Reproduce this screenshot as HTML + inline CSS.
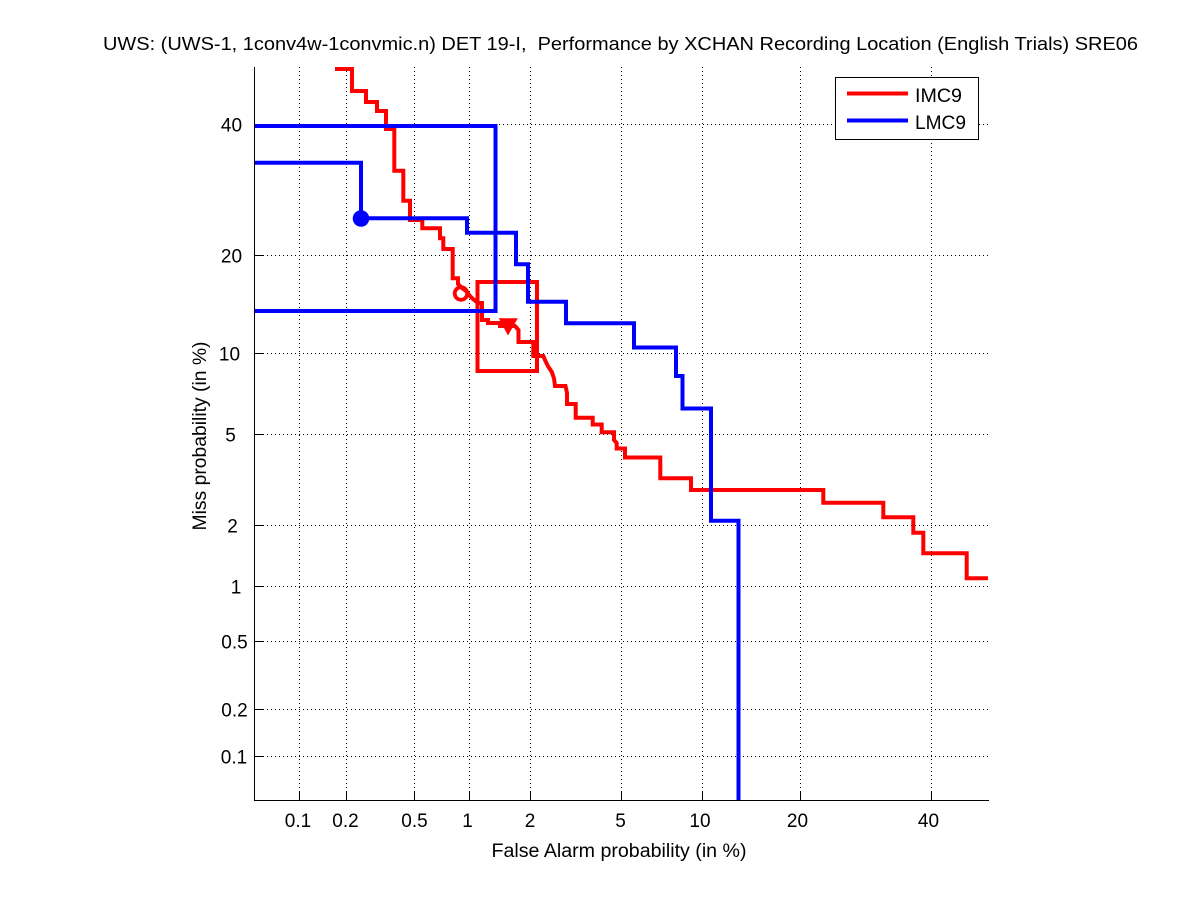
<!DOCTYPE html>
<html>
<head>
<meta charset="utf-8">
<style>
  html,body{margin:0;padding:0;background:#fff;}
  svg{display:block;}
  text{font-family:"Liberation Sans",Arial,sans-serif;fill:#000;}
</style>
</head>
<body>
<svg width="1201" height="900" viewBox="0 0 1201 900" xmlns="http://www.w3.org/2000/svg">
  <rect x="0" y="0" width="1201" height="900" fill="#fff"/>

  <!-- grid: vertical -->
  <g stroke="#000" stroke-width="1" stroke-dasharray="1,3" fill="none">
    <line x1="299.5" y1="67" x2="299.5" y2="800"/>
    <line x1="346.5" y1="67" x2="346.5" y2="800"/>
    <line x1="414.5" y1="67" x2="414.5" y2="800"/>
    <line x1="469.5" y1="67" x2="469.5" y2="800"/>
    <line x1="530.5" y1="67" x2="530.5" y2="800"/>
    <line x1="621.5" y1="67" x2="621.5" y2="800"/>
    <line x1="702.5" y1="67" x2="702.5" y2="800"/>
    <line x1="800.5" y1="67" x2="800.5" y2="800"/>
    <line x1="931.5" y1="67" x2="931.5" y2="800"/>
    <!-- horizontal -->
    <line x1="255" y1="124.5" x2="988" y2="124.5"/>
    <line x1="255" y1="255.5" x2="988" y2="255.5"/>
    <line x1="255" y1="353.5" x2="988" y2="353.5"/>
    <line x1="255" y1="434.5" x2="988" y2="434.5"/>
    <line x1="255" y1="525.5" x2="988" y2="525.5"/>
    <line x1="255" y1="586.5" x2="988" y2="586.5"/>
    <line x1="255" y1="641.5" x2="988" y2="641.5"/>
    <line x1="255" y1="709.5" x2="988" y2="709.5"/>
    <line x1="255" y1="756.5" x2="988" y2="756.5"/>
  </g>

  <!-- axes -->
  <g stroke="#000" stroke-width="1" fill="none">
    <line x1="254.5" y1="67" x2="254.5" y2="801"/>
    <line x1="254" y1="800.5" x2="989" y2="800.5"/>
    <!-- x ticks -->
    <line x1="299.5" y1="800" x2="299.5" y2="792"/>
    <line x1="346.5" y1="800" x2="346.5" y2="792"/>
    <line x1="414.5" y1="800" x2="414.5" y2="792"/>
    <line x1="469.5" y1="800" x2="469.5" y2="792"/>
    <line x1="530.5" y1="800" x2="530.5" y2="792"/>
    <line x1="621.5" y1="800" x2="621.5" y2="792"/>
    <line x1="702.5" y1="800" x2="702.5" y2="792"/>
    <line x1="800.5" y1="800" x2="800.5" y2="792"/>
    <line x1="931.5" y1="800" x2="931.5" y2="792"/>
    <!-- y ticks -->
    <line x1="255" y1="124.5" x2="263" y2="124.5"/>
    <line x1="255" y1="255.5" x2="263" y2="255.5"/>
    <line x1="255" y1="353.5" x2="263" y2="353.5"/>
    <line x1="255" y1="434.5" x2="263" y2="434.5"/>
    <line x1="255" y1="525.5" x2="263" y2="525.5"/>
    <line x1="255" y1="586.5" x2="263" y2="586.5"/>
    <line x1="255" y1="641.5" x2="263" y2="641.5"/>
    <line x1="255" y1="709.5" x2="263" y2="709.5"/>
    <line x1="255" y1="756.5" x2="263" y2="756.5"/>
  </g>

  <!-- red series -->
  <g stroke="#ff0000" stroke-width="4" fill="none" stroke-linejoin="miter">
    <path d="M335,69 H352 V91 H366 V102 H377 V111 H386 V129 H394.3 V170.7 H403.3 V200.7 H410 V220 H422.3 V228.3 H440 V238.3 H443.3 V249 H452.7 V278.3 H458 V284 L462,288 L466,291 L470,296 L473,299 L478,303 H482 V320 H488 V323 H500 V326 H515 L518.5,330 V342 H533.3 V356 H543.3 L545,360 L548.3,366.7 L551.7,371.7 L554,378.3 L555,386 H565.5 L567,393 V404 H575.7 V417.7 H592.7 V424.5 H601.7 V432.3 H614 V440 L616.7,443 V448.5 H625 V457.5 H660.3 V478.3 H691 V490 H823.3 V502.7 H883.3 V517.3 H913.3 V532.7 H923.3 V553.3 H966.7 V578.3 H988"/>
    <path d="M477.5,282 H537 V371 H477.5 Z"/>
  </g>
  <circle cx="461" cy="293.5" r="6.3" fill="none" stroke="#ff0000" stroke-width="3.8"/>
  <polygon points="500,319 516.5,319 508,334" fill="#ff0000" stroke="#ff0000" stroke-width="1.5"/>

  <!-- blue series -->
  <g stroke="#0000ff" stroke-width="4" fill="none">
    <path d="M255,126 H495.5 V311 H255"/>
    <path d="M255,162.7 H361 V218.3 H467 V232.7 H516 V264.3 H528 V301.7 H566 V323.3 H634 V347.5 H676 V376 H682.5 V408.5 H711 V520.7 H738.5 V800"/>
  </g>
  <circle cx="361" cy="218.5" r="8.3" fill="#0000ff"/>

  <!-- legend -->
  <rect x="835.5" y="77.5" width="143" height="62" fill="#fff" stroke="#000" stroke-width="1"/>
  <line x1="847" y1="93.5" x2="908" y2="93.5" stroke="#ff0000" stroke-width="4"/>
  <line x1="847" y1="120.5" x2="908" y2="120.5" stroke="#0000ff" stroke-width="4"/>
  <text x="915" y="102" font-size="19.5" textLength="47" lengthAdjust="spacingAndGlyphs">IMC9</text>
  <text x="915" y="129" font-size="19.5" textLength="51" lengthAdjust="spacingAndGlyphs">LMC9</text>

  <!-- y tick labels -->
  <g font-size="19" text-anchor="middle">
    <text x="231.5" y="131.5">40</text>
    <text x="231.5" y="262.5">20</text>
    <text x="229.5" y="360.5">10</text>
    <text x="230.5" y="441.5">5</text>
    <text x="232.5" y="532.5">2</text>
    <text x="236" y="593.5">1</text>
    <text x="234.5" y="648.5">0.5</text>
    <text x="234.5" y="716.5">0.2</text>
    <text x="234" y="763.5">0.1</text>
  </g>

  <!-- x tick labels -->
  <g font-size="19" text-anchor="middle">
    <text x="298" y="827">0.1</text>
    <text x="345.5" y="827">0.2</text>
    <text x="414.5" y="827">0.5</text>
    <text x="467.5" y="827">1</text>
    <text x="530" y="827">2</text>
    <text x="620.5" y="827">5</text>
    <text x="700" y="827">10</text>
    <text x="797.5" y="827">20</text>
    <text x="928.5" y="827">40</text>
  </g>

  <!-- axis labels -->
  <text x="491.5" y="857" font-size="19" textLength="255" lengthAdjust="spacingAndGlyphs">False Alarm probability (in %)</text>
  <text transform="translate(206,436) rotate(-90)" x="0" y="0" font-size="19" text-anchor="middle" textLength="189" lengthAdjust="spacingAndGlyphs">Miss probability (in %)</text>

  <!-- title -->
  <text x="103" y="50" font-size="18.5" textLength="1035" lengthAdjust="spacingAndGlyphs" xml:space="preserve">UWS: (UWS-1, 1conv4w-1convmic.n) DET 19-I,  Performance by XCHAN Recording Location (English Trials) SRE06</text>
</svg>
</body>
</html>
